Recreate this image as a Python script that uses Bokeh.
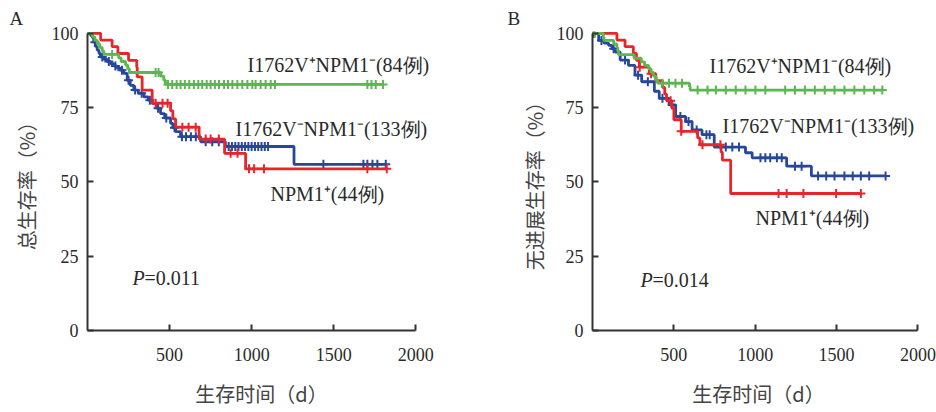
import numpy as np
from bokeh.plotting import figure
from bokeh.models import Range1d, FixedTicker, Label, ColumnDataSource
from bokeh.layouts import row
from bokeh.embed import file_html
from bokeh.resources import INLINE

# ---------------- data ----------------
x_ticks = [500, 1000, 1500, 2000]
y_ticks = [0, 25, 50, 75, 100]

group_names = ["I1762V⁺NPM1⁻(84例)", "I1762V⁻NPM1⁻(133例)", "NPM1⁺(44例)"]
x_title = "生存时间（d）"
A_y_title = "总生存率（%）"
B_y_title = "无进展生存率（%）"

# Panel A : overall survival
A_green_t = [30, 45, 60, 75, 90, 100, 190, 205, 232, 245, 255, 445, 465, 475]
A_green_s = [98.8, 97.6, 96.4, 95.2, 94.0, 92.9, 91.7, 90.5, 89.3, 88.1, 86.8, 85.6, 84.2, 82.8]
A_green_c = [150, 415, 433, 490, 516, 543, 567, 593, 620, 648, 675, 699, 726, 750, 776, 801,
             832, 856, 883, 913, 943, 974, 1004, 1024, 1055, 1085, 1116, 1142, 1705, 1730, 1756, 1800]

A_blue_t = [20, 30, 38, 50, 59, 70, 79, 100, 120, 140, 160, 180, 201, 220, 242, 260, 282, 310,
            343, 370, 394, 420, 445, 470, 506, 520, 537, 567, 689, 840, 1258]
A_blue_s = [99.2, 98.5, 97.0, 95.5, 94.3, 93.2, 92.0, 91.2, 90.5, 89.8, 89.0, 88.3, 87.6, 86.5,
            84.2, 82.5, 80.9, 79.8, 78.6, 77.5, 76.4, 74.8, 73.0, 71.5, 69.7, 68.2, 66.9, 65.2,
            63.5, 61.9, 55.9]
A_blue_c = [45, 90, 130, 170, 210, 250, 290, 330, 380, 430, 480, 530, 575, 600, 630, 660, 720,
            760, 800, 860, 880, 900, 920, 940, 960, 980, 1000, 1020, 1040, 1060, 1080, 1100,
            1437, 1681, 1705, 1736, 1766, 1817]

A_red_t = [80, 150, 185, 250, 300, 303, 333, 394, 506, 520, 537, 680, 835, 963]
A_red_s = [97.7, 95.5, 93.2, 90.9, 88.6, 85.3, 80.9, 76.5, 73.9, 71.2, 68.4, 64.4, 59.6, 54.4]
A_red_c = [415, 457, 488, 578, 616, 659, 720, 750, 800, 872, 914, 984, 1015, 1075, 1705, 1823]

# Panel B : progression-free survival
B_green_t = [67, 70, 130, 150, 155, 160, 255, 300, 320, 345, 360, 375, 390, 400, 596, 600]
B_green_s = [98.8, 97.6, 96.4, 95.2, 94.0, 92.8, 91.6, 90.4, 89.2, 88.0, 86.8, 85.6, 84.4, 83.2, 82.0, 80.9]
B_green_c = [15, 430, 470, 510, 550, 646, 707, 758, 819, 880, 940, 1001, 1062, 1184, 1244, 1305,
             1366, 1427, 1487, 1548, 1609, 1670, 1731, 1781]

B_blue_t = [38, 70, 99, 120, 140, 170, 221, 261, 302, 380, 410, 471, 511, 572, 612, 673, 748,
            940, 981, 1193, 1345]
B_blue_s = [97.6, 96.7, 95.9, 94.8, 93.7, 91.0, 89.2, 85.9, 83.7, 80.5, 78.1, 75.9, 72.0, 70.3,
            67.5, 65.9, 61.7, 59.8, 58.1, 55.3, 52.0]
B_blue_c = [5, 55, 130, 200, 280, 340, 430, 490, 540, 590, 640, 700, 720, 819, 859, 900, 1032,
            1062, 1092, 1133, 1163, 1244, 1285, 1386, 1436, 1487, 1548, 1599, 1649, 1700, 1801]

B_red_t = [150, 200, 251, 270, 288, 349, 389, 430, 444, 455, 486, 500, 545, 646, 660, 790, 798, 849]
B_red_s = [97.7, 95.5, 93.2, 90.9, 88.6, 86.4, 84.1, 81.8, 79.5, 77.3, 75.0, 70.9, 67.0, 64.8,
           62.5, 60.0, 57.3, 46.1]
B_red_c = [290, 360, 480, 545, 676, 786, 1143, 1193, 1296, 1497, 1649]

# text placement inside the plot frame, in pixels from its lower-left corner
A_label_px = [(160, 266), (148, 202), (183, 137)]
B_label_px = [(117, 265), (130, 205), (163, 113)]
A_p_text, A_p_px = "=0.011", (45, 53)
B_p_text, B_p_px = "=0.014", (48, 51)

# ---------------- style ----------------
GREEN = "#5bb74f"
BLUE = "#27479a"
RED = "#e6262b"
SERIF = "Liberation Serif"
CJK = "Noto Sans CJK SC"
TXT = "#2a2a2a"


def add_curve(p, t, s, c, color):
    end = max(max(t), max(c))
    xs = [0] + list(t) + [end]
    ys = [100] + list(s) + [s[-1]]
    p.step(x=xs, y=ys, mode="after", line_color=color, line_width=2.8)
    tt = np.array(t)
    ss = np.array([100] + list(s))
    idx = np.searchsorted(tt, np.array(c), side="right")
    src = ColumnDataSource(dict(x=c, y=ss[idx]))
    p.scatter("x", "y", source=src, marker="cross", size=9, line_color=color, line_width=2)


def slabel(p, xy, text, **kw):
    p.add_layout(Label(x=xy[0], y=xy[1], x_units="screen", y_units="screen", text=text,
                       text_font=SERIF, text_font_size="20px", text_color=TXT,
                       text_baseline="middle", text_align="left", **kw))


def make_panel(width, left, right, x_end, ytitle, y_standoff, letter, letter_off,
               curves, lab_px, p_text, p_px):
    p = figure(width=width, height=412, output_backend="svg", toolbar_location=None,
               x_range=Range1d(0, x_end), y_range=Range1d(0, 100.6),
               min_border_left=left, min_border_right=right,
               min_border_top=31, min_border_bottom=82)
    p.outline_line_color = None
    p.grid.visible = False

    p.title.text = letter
    p.title.align = "left"
    p.title.offset = letter_off
    p.title.standoff = 6
    p.title.text_font = SERIF
    p.title.text_font_style = "normal"
    p.title.text_font_size = "19px"
    p.title.text_color = TXT

    for ax in (p.xaxis[0], p.yaxis[0]):
        ax.axis_line_color = "#333333"
        ax.axis_line_width = 2
        ax.major_tick_line_color = "#333333"
        ax.major_tick_line_width = 2
        ax.major_tick_in = 6
        ax.major_tick_out = 0
        ax.minor_tick_line_color = None
        ax.major_label_text_font = SERIF
        ax.major_label_text_font_size = "18px"
        ax.major_label_text_color = TXT
        ax.axis_label_text_font = CJK
        ax.axis_label_text_font_size = "20px"
        ax.axis_label_text_font_style = "normal"
        ax.axis_label_text_color = "#444444"

    p.xaxis.bounds = (0, 2000)
    p.yaxis.bounds = (0, 100)
    p.xaxis.ticker = FixedTicker(ticks=x_ticks)
    p.yaxis.ticker = FixedTicker(ticks=y_ticks)
    p.xaxis.major_label_standoff = 17
    p.yaxis.major_label_standoff = 9
    p.xaxis.axis_label = x_title
    p.yaxis.axis_label = ytitle
    p.xaxis.axis_label_standoff = 15
    p.yaxis.axis_label_standoff = y_standoff

    for (t, s, c, col) in curves:
        add_curve(p, t, s, c, col)

    for name, xy in zip(group_names, lab_px):
        slabel(p, xy, name)

    slabel(p, p_px, "P", text_font_style="italic")
    slabel(p, (p_px[0] + 12, p_px[1]), p_text)
    return p


pA = make_panel(470, 87, 35, 2120, A_y_title, 8, "A", -78,
                [(A_blue_t, A_blue_s, A_blue_c, BLUE),
                 (A_red_t, A_red_s, A_red_c, RED),
                 (A_green_t, A_green_s, A_green_c, GREEN)],
                A_label_px, A_p_text, A_p_px)

pB = make_panel(466, 122, 12, 2040, B_y_title, 5, "B", -85,
                [(B_blue_t, B_blue_s, B_blue_c, BLUE),
                 (B_red_t, B_red_s, B_red_c, RED),
                 (B_green_t, B_green_s, B_green_c, GREEN)],
                B_label_px, B_p_text, B_p_px)

layout = row(pA, pB)
open("out.html", "w").write(file_html(layout, INLINE))
